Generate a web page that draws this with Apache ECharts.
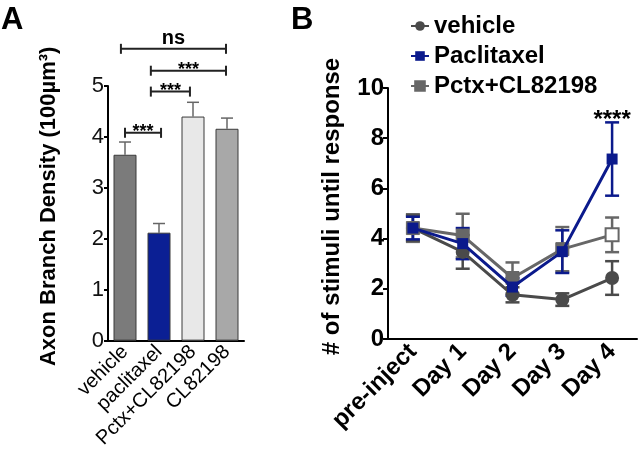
<!DOCTYPE html>
<html><head><meta charset="utf-8">
<script src="https://cdn.jsdelivr.net/npm/echarts@6/dist/echarts.min.js"></script>
<style>html,body{margin:0;padding:0;background:#fff}#c{width:640px;height:451px}</style>
</head><body><div id="c"></div>
<script>
// Panel A data
const barCategories = ['vehicle', 'paclitaxel', 'Pctx+CL82198', 'CL82198'];
const barValues = [3.65, 2.12, 4.40, 4.16];
const barErrors = [0.25, 0.18, 0.28, 0.21];
const barTicks = [0, 1, 2, 3, 4, 5];
// significance brackets: [from position, to position, y value, label]
const sigBrackets = [
  [-0.12, 2.97, 5.73, 'ns'],
  [0.76, 2.97, 5.30, '***'],
  [0.76, 1.91, 4.89, '***'],
  [0.0, 1.06, 4.08, '***']
];
// Panel B data
const dayCategories = ['pre-inject', 'Day 1', 'Day 2', 'Day 3', 'Day 4'];
const vehicleMean = [4.42, 3.47, 1.76, 1.57, 2.43];
const vehicleErr = [0.50, 0.67, 0.30, 0.25, 0.67];
const paclitaxelMean = [4.42, 3.80, 2.07, 3.48, 7.17];
const paclitaxelErr = [0.45, 0.62, 0.35, 0.85, 1.46];
const pctxMean = [4.42, 4.12, 2.43, 3.58, 4.15];
const pctxErr = [0.55, 0.87, 0.62, 0.88, 0.69];
const pctxOpenPoints = [4];
const dayAnnotations = [[4, 8.63, '****']];

const barColors = ['#7b7b7b', '#0b1f94', '#e8e8e8', '#a8a8a8'];
const colVehicle = '#4a4a4a', colPac = '#0b1a8c', colPctx = '#676767';
const FONT = '"Liberation Sans", Arial, sans-serif';

const chart = echarts.init(document.getElementById('c'));

function errRender(color, capHalf) {
  return function (params, api) {
    const x = api.value(0), lo = api.value(1), hi = api.value(2);
    const p1 = api.coord([x, lo]), p2 = api.coord([x, hi]);
    const st = { stroke: color, lineWidth: 2.5 };
    return { type: 'group', children: [
      { type: 'line', shape: { x1: p1[0], y1: p1[1], x2: p2[0], y2: p2[1] }, style: st },
      { type: 'line', shape: { x1: p1[0] - capHalf, y1: p1[1], x2: p1[0] + capHalf, y2: p1[1] }, style: st },
      { type: 'line', shape: { x1: p2[0] - capHalf, y1: p2[1], x2: p2[0] + capHalf, y2: p2[1] }, style: st }
    ]};
  };
}
function errData(mean, err) { return mean.map((m, i) => [i, m - err[i], m + err[i]]); }
function catX(api, pos, val) {
  const i = Math.round(pos);
  const band = api.size([1, 0])[0];
  const p = api.coord([i, val]);
  return [p[0] + (pos - i) * band, p[1]];
}

const option = {
  animation: false,
  backgroundColor: '#fff',
  title: [
    { text: 'A', left: -4, top: 0, textStyle: { fontFamily: FONT, fontSize: 31, fontWeight: 'bold', color: '#000' } },
    { text: 'B', left: 286, top: 0, textStyle: { fontFamily: FONT, fontSize: 31, fontWeight: 'bold', color: '#000' } }
  ],
  legend: {
    data: ['vehicle', 'Paclitaxel', 'Pctx+CL82198'],
    orient: 'vertical', left: 405, top: 9, itemGap: 6, itemWidth: 18, itemHeight: 12,
    textStyle: { fontFamily: FONT, fontSize: 24, fontWeight: 'bold', color: '#000' }
  },
  grid: [
    { left: 108, top: 86, width: 136, height: 256 },
    { left: 388, top: 88, width: 249, height: 251 }
  ],
  xAxis: [
    { type: 'category', gridIndex: 0, data: barCategories,
      axisLine: { lineStyle: { color: '#000', width: 2 } },
      axisTick: { alignWithLabel: true, length: 5, lineStyle: { color: '#000', width: 2 } },
      axisLabel: { interval: 0, hideOverlap: false, rotate: 45, margin: 8, fontFamily: FONT, fontSize: 20, color: '#000' } },
    { type: 'category', gridIndex: 1, data: dayCategories,
      axisLine: { lineStyle: { color: '#000', width: 2 } },
      axisTick: { alignWithLabel: true, length: 5, lineStyle: { color: '#000', width: 2 } },
      axisLabel: { interval: 0, rotate: 45, margin: 9, fontFamily: FONT, fontSize: 24, fontWeight: 'bold', color: '#000' } }
  ],
  yAxis: [
    { type: 'value', gridIndex: 0, min: barTicks[0], max: barTicks[barTicks.length - 1], interval: 1,
      name: 'Axon Branch Density (100µm³)', nameLocation: 'middle', nameGap: 48,
      nameTextStyle: { fontFamily: FONT, fontSize: 22, fontWeight: 'bold', color: '#000', padding: [0, 0, 0, 14] },
      axisLine: { show: true, lineStyle: { color: '#000', width: 2 } },
      axisTick: { show: true, length: 4, lineStyle: { color: '#000', width: 2 } },
      splitLine: { show: false },
      axisLabel: { margin: 4, fontFamily: FONT, fontSize: 22, color: '#111' } },
    { type: 'value', gridIndex: 1, min: 0, max: 10, interval: 2,
      name: '# of stimuli until response', nameLocation: 'middle', nameGap: 44,
      nameTextStyle: { fontFamily: FONT, fontSize: 24, fontWeight: 'bold', color: '#000', padding: [0, 0, 0, 14] },
      axisLine: { show: true, lineStyle: { color: '#000', width: 2 } },
      axisTick: { show: true, length: 5, lineStyle: { color: '#000', width: 2 } },
      splitLine: { show: false },
      axisLabel: { margin: 4, fontFamily: FONT, fontSize: 24, fontWeight: 'bold', color: '#000' } }
  ],
  series: [
    { type: 'bar', xAxisIndex: 0, yAxisIndex: 0, barWidth: 23,
      data: barValues.map((v, i) => ({ value: v, itemStyle: { color: barColors[i] } })),
      itemStyle: { borderColor: '#3a3a3a', borderWidth: 1 } },
    { type: 'custom', xAxisIndex: 0, yAxisIndex: 0, z: 1,
      data: barValues.map((v, i) => [i, v, v + barErrors[i]]),
      renderItem: function (params, api) {
        const x = api.value(0);
        const p1 = api.coord([x, api.value(1)]), p2 = api.coord([x, api.value(2)]);
        const st = { stroke: '#666', lineWidth: 1.5 };
        return { type: 'group', children: [
          { type: 'line', shape: { x1: p1[0], y1: p1[1], x2: p2[0], y2: p2[1] }, style: st },
          { type: 'line', shape: { x1: p2[0] - 6, y1: p2[1], x2: p2[0] + 6, y2: p2[1] }, style: st }
        ]};
      } },
    { type: 'custom', xAxisIndex: 0, yAxisIndex: 0, clip: false,
      data: sigBrackets,
      renderItem: function (params, api) {
        const b = sigBrackets[params.dataIndex];
        const p1 = catX(api, b[0], b[2]), p2 = catX(api, b[1], b[2]);
        const st = { stroke: '#222', lineWidth: 2 };
        const ns = b[3] === 'ns';
        return { type: 'group', children: [
          { type: 'line', shape: { x1: p1[0], y1: p1[1], x2: p2[0], y2: p2[1] }, style: st },
          { type: 'line', shape: { x1: p1[0], y1: p1[1] - 5, x2: p1[0], y2: p1[1] + 5 }, style: st },
          { type: 'line', shape: { x1: p2[0], y1: p2[1] - 5, x2: p2[0], y2: p2[1] + 5 }, style: st },
          { type: 'text', x: (p1[0] + p2[0]) / 2, y: p1[1] + (ns ? 0 : 8),
            style: { text: b[3], fill: '#000', font: 'bold ' + (ns ? 20 : 18) + 'px ' + FONT,
              textAlign: 'center', textVerticalAlign: 'bottom' } }
        ]};
      } },
    // Panel B error bars
    { type: 'custom', xAxisIndex: 1, yAxisIndex: 1, data: errData(pctxMean, pctxErr), renderItem: errRender(colPctx, 7), z: 2 },
    { type: 'custom', xAxisIndex: 1, yAxisIndex: 1, data: errData(vehicleMean, vehicleErr), renderItem: errRender(colVehicle, 7), z: 2 },
    { type: 'custom', xAxisIndex: 1, yAxisIndex: 1, data: errData(paclitaxelMean, paclitaxelErr), renderItem: errRender(colPac, 7), z: 2 },
    { name: 'vehicle', type: 'line', xAxisIndex: 1, yAxisIndex: 1, data: vehicleMean, z: 3,
      symbol: 'circle', symbolSize: 14, itemStyle: { color: colVehicle },
      lineStyle: { color: colVehicle, width: 3 } },
    { name: 'Pctx+CL82198', type: 'line', xAxisIndex: 1, yAxisIndex: 1, z: 3,
      data: pctxMean.map((v, i) => pctxOpenPoints.indexOf(i) >= 0
        ? { value: v, itemStyle: { color: '#fff', borderColor: colPctx, borderWidth: 2 } } : v),
      symbol: 'rect', symbolSize: 13, itemStyle: { color: colPctx, borderColor: colPctx, borderWidth: 1 },
      lineStyle: { color: colPctx, width: 3 } },
    { name: 'Paclitaxel', type: 'line', xAxisIndex: 1, yAxisIndex: 1, data: paclitaxelMean, z: 4,
      symbol: 'rect', symbolSize: 11, itemStyle: { color: colPac },
      lineStyle: { color: colPac, width: 3 } },
    { type: 'custom', xAxisIndex: 1, yAxisIndex: 1, clip: false, data: dayAnnotations,
      renderItem: function (params, api) {
        const p = api.coord([api.value(0), api.value(1)]);
        return { type: 'text', x: p[0], y: p[1] + 10,
          style: { text: dayAnnotations[params.dataIndex][2], fill: '#000', font: 'bold 24px ' + FONT,
            textAlign: 'center', textVerticalAlign: 'bottom' } };
      } }
  ]
};
chart.setOption(option);
</script>
</body></html>
